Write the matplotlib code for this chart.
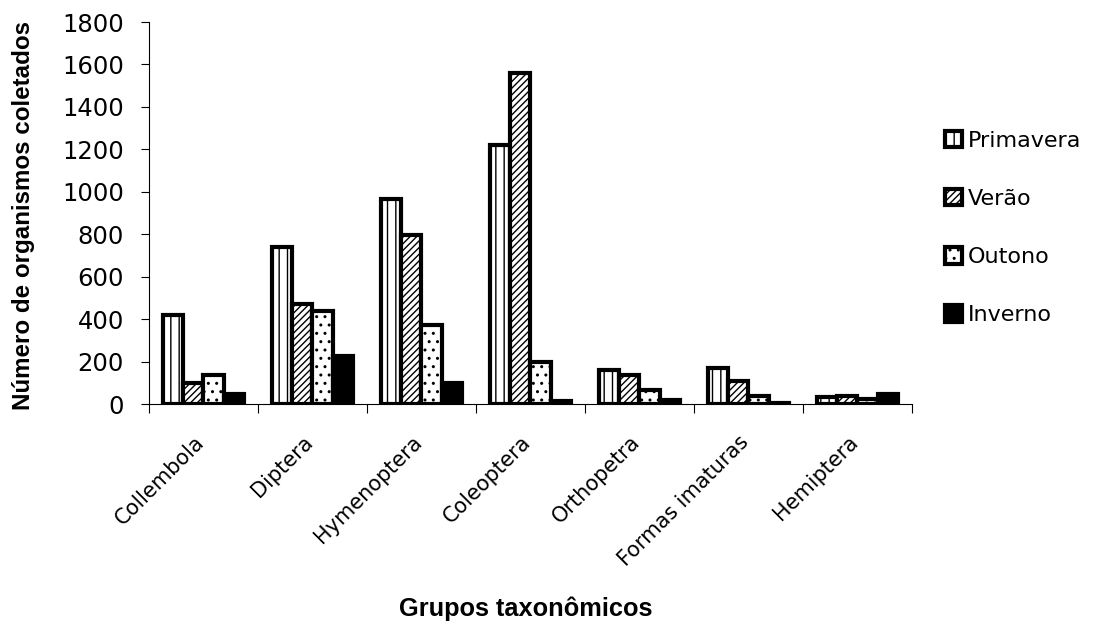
import numpy as np
import matplotlib
matplotlib.use("Agg")
import matplotlib.pyplot as plt
from matplotlib.transforms import ScaledTranslation

plt.rcParams["font.family"] = ["DejaVu Sans"]
plt.rcParams["hatch.linewidth"] = 1.0

# dados
grupos = ["Collembola", "Diptera", "Hymenoptera", "Coleoptera",
          "Orthopetra", "Formas imaturas", "Hemiptera"]
primavera = [420, 740, 965, 1220, 160, 170, 35]
verao = [100, 470, 795, 1560, 135, 110, 40]
outono = [135, 440, 370, 200, 65, 40, 25]
inverno = [45, 225, 100, 15, 20, 5, 45]

estacoes = ["Primavera", "Verão", "Outono", "Inverno"]
series = [primavera, verao, outono, inverno]
hatches = ["||", "/////", "..", None]
cores = ["white", "white", "white", "black"]

fig = plt.figure(figsize=(10.95, 6.24), dpi=100)
ax = fig.add_axes([149 / 1095, 1 - 404 / 624, 763 / 1095, 382 / 624])

x = np.arange(len(grupos))
largura = 0.185
for i, (nome, valores) in enumerate(zip(estacoes, series)):
    pos = x + (i - 1.5) * largura
    ax.bar(pos, valores, largura, color=cores[i], edgecolor="black",
           linewidth=3, hatch=hatches[i], label=nome, zorder=3)

ax.set_xlim(-0.5, len(grupos) - 0.5)
ax.set_ylim(0, 1800)
ax.set_yticks(np.arange(0, 1801, 200))
ax.tick_params(axis="y", labelsize=17.5, length=6, direction="out", pad=12)

# marcas entre os grupos, rótulos no centro
ax.set_xticks(np.arange(-0.5, len(grupos), 1.0))
ax.set_xticklabels([])
ax.tick_params(axis="x", length=6.5, direction="out")
ax.set_xticks(x, minor=True)
ax.set_xticklabels(grupos, minor=True, rotation=45, ha="right",
                   rotation_mode="anchor", fontsize=15)
ax.tick_params(axis="x", which="minor", length=0, pad=20)
desloc = ScaledTranslation(-7 / 72, 0, fig.dpi_scale_trans)
for rot in ax.get_xticklabels(minor=True):
    rot.set_transform(rot.get_transform() + desloc)

for lado in ["top", "right"]:
    ax.spines[lado].set_visible(False)

fig.text(24 / 1095, 1 - 215 / 624, "Número de organismos coletados",
         rotation=90, ha="center", va="center", fontsize=17.4,
         fontweight="bold", family="Liberation Sans")
fig.text(526 / 1095, 1 - 609 / 624, "Grupos taxonômicos", ha="center",
         va="center", fontsize=18.3, fontweight="bold",
         family="Liberation Sans")

leg = ax.legend(loc="center left", bbox_to_anchor=(945 / 1095, 1 - 228 / 624),
                bbox_transform=fig.transFigure, frameon=False, fontsize=16,
                labelspacing=1.72, handlelength=0.77, handleheight=0.77,
                handletextpad=0.25, borderpad=0, borderaxespad=0)

plt.savefig("out.png", dpi=100)
